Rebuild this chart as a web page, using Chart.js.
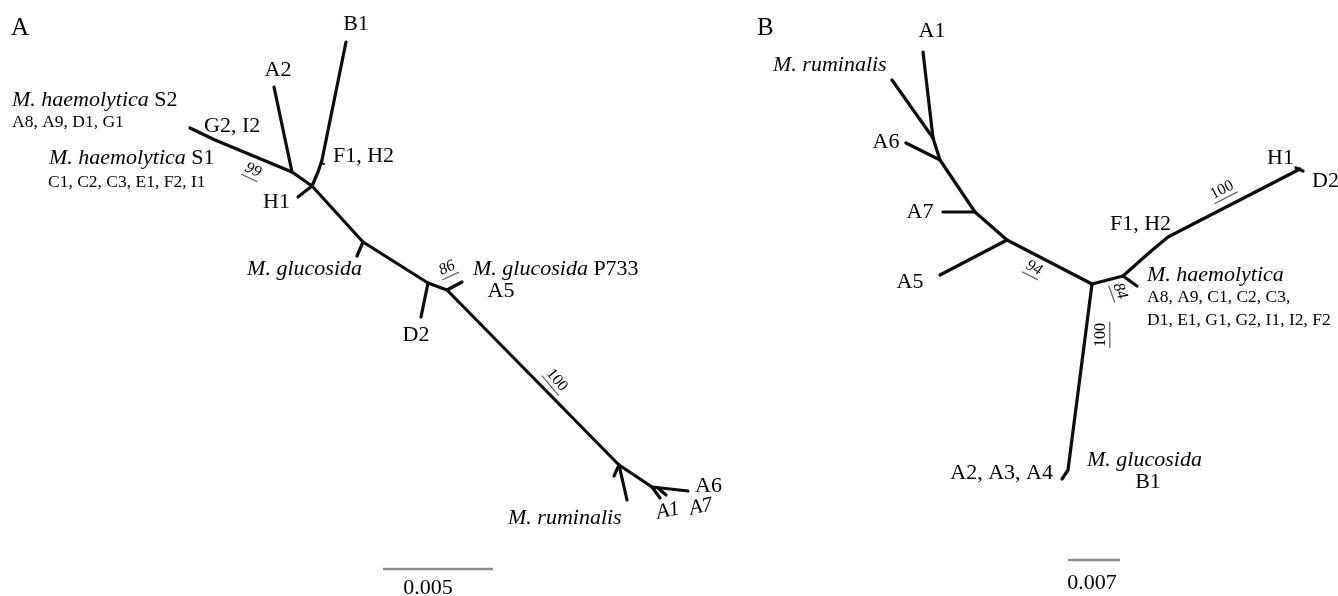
<!DOCTYPE html>
<html>
<head>
<meta charset="utf-8">
<script src="https://cdn.jsdelivr.net/npm/chart.js@4.4.1/dist/chart.umd.min.js"></script>
<style>
  html, body { margin: 0; padding: 0; background: #ffffff; }
  #wrap { width: 1338px; height: 596px; }
</style>
</head>
<body>
<div id="wrap"><canvas id="c" width="1338" height="596"></canvas></div>
<script>
// ---------------- DATA (node positions of the two unrooted trees) ----------------
// Tree A (polyline branches, each a list of [x, y] nodes in layout units)
const treeA_branches = [
  [[346, 42], [322, 160], [318, 172], [312, 186]],        // B1 (F1, H2 on it)
  [[274, 87], [292, 172]],                                 // A2
  [[190, 128], [215, 140], [292, 172], [312, 186]],        // M. haemolytica S2 / S1, G2, I2
  [[298, 197], [312, 186]],                                // H1
  [[312, 186], [363, 242], [428, 283], [447, 290], [619, 465]], // backbone
  [[363, 242], [357, 256]],                                // M. glucosida
  [[428, 283], [421, 317]],                                // D2
  [[447, 290], [462, 282]],                                // M. glucosida P733 / A5
  [[619, 465], [614, 476]],                                // ruminalis fork stub
  [[619, 465], [627, 500]],                                // M. ruminalis
  [[619, 465], [652, 487], [688, 491]],                    // A6
  [[652, 487], [660, 498]],                                // A1
  [[658, 488], [666, 495]]                                 // A7
];
const treeA_ticks = [
  [[321, 163], [324, 164]]                                 // F1, H2 mark
];
// Tree B
const treeB_branches = [
  [[923, 52], [933, 138]],                                 // A1
  [[892, 80], [933, 138]],                                 // M. ruminalis
  [[933, 138], [940, 160], [975, 212], [1007, 240], [1092, 284]], // backbone
  [[906, 143], [940, 160]],                                // A6
  [[943, 212], [975, 212]],                                // A7
  [[940, 275], [1007, 240]],                               // A5
  [[1092, 284], [1123, 276]],
  [[1123, 276], [1137, 286]],                              // M. haemolytica
  [[1123, 276], [1150, 252], [1168, 237], [1300, 169]],    // F1, H2 -> H1, D2
  [[1296, 168], [1303, 171]],
  [[1092, 284], [1068, 470], [1062, 479]]                  // M. glucosida / A2, A3, A4
];
// Scale bars: [start, end] in layout units, value represented
const scaleBarA = [[383, 569], [493, 569]];
const scaleBarB = [[1068, 560], [1120, 560]];
const scaleValues = ["0.005", "0.007"];
// Bootstrap support values
const supportA = ["99", "86", "100"];
const supportB = ["94", "100", "84", "100"];

// ---------------- LABEL LAYOUT ----------------
// parts: [text, italic?]
const labels = [
  // Panel A
  { p: [["A", 0]], x: 11, y: 28, s: 25, a: "left" },
  { p: [["B1", 0]], x: 356, y: 24, s: 22, a: "center" },
  { p: [["A2", 0]], x: 278, y: 70, s: 22, a: "center" },
  { p: [["G2, I2", 0]], x: 204, y: 126, s: 22, a: "left" },
  { p: [["F1, H2", 0]], x: 333, y: 156, s: 22, a: "left" },
  { p: [["H1", 0]], x: 263, y: 202, s: 22, a: "left" },
  { p: [["M. haemolytica", 1], [" S2", 0]], x: 12, y: 100, s: 22, a: "left" },
  { p: [["A8, A9, D1, G1", 0]], x: 12, y: 122, s: 17.5, a: "left" },
  { p: [["M. haemolytica", 1], [" S1", 0]], x: 49, y: 158, s: 22, a: "left" },
  { p: [["C1, C2, C3, E1, F2, I1", 0]], x: 48, y: 182, s: 17.5, a: "left" },
  { p: [["M. glucosida", 1]], x: 362, y: 269, s: 22, a: "right" },
  { p: [["M. glucosida", 1], [" P733", 0]], x: 473, y: 269, s: 22, a: "left" },
  { p: [["A5", 0]], x: 501, y: 291, s: 22, a: "center" },
  { p: [["D2", 0]], x: 416, y: 335, s: 22, a: "center" },
  { p: [["M. ruminalis", 1]], x: 508, y: 518, s: 22, a: "left" },
  { p: [["A6", 0]], x: 695, y: 486, s: 22, a: "left" },
  { p: [["A1", 1]], x: 668, y: 511, s: 21, a: "center", r: -12 },
  { p: [["A7", 1]], x: 701, y: 507, s: 21, a: "center", r: -12 },
  { p: [[supportA[0], 1]], x: 253, y: 170, s: 16, a: "center", r: 25, ul: 1 },
  { p: [[supportA[1], 1]], x: 447, y: 268, s: 16, a: "center", r: -25, ul: 1 },
  { p: [[supportA[2], 0]], x: 557, y: 380, s: 16, a: "center", r: 50, ul: 1 },
  { p: [[scaleValues[0], 0]], x: 428, y: 588, s: 22, a: "center" },
  // Panel B
  { p: [["B", 0]], x: 757, y: 28, s: 25, a: "left" },
  { p: [["A1", 0]], x: 932, y: 31, s: 22, a: "center" },
  { p: [["M. ruminalis", 1]], x: 773, y: 65, s: 22, a: "left" },
  { p: [["A6", 0]], x: 886, y: 142, s: 22, a: "center" },
  { p: [["A7", 0]], x: 920, y: 212, s: 22, a: "center" },
  { p: [["A5", 0]], x: 910, y: 282, s: 22, a: "center" },
  { p: [[supportB[0], 1]], x: 1034, y: 268, s: 16, a: "center", r: 27, ul: 1 },
  { p: [["F1, H2", 0]], x: 1110, y: 224, s: 22, a: "left" },
  { p: [[supportB[1], 0]], x: 1222, y: 190, s: 16, a: "center", r: -27, ul: 1 },
  { p: [["H1", 0]], x: 1267, y: 158, s: 22, a: "left" },
  { p: [["D2", 0]], x: 1312, y: 181, s: 22, a: "left" },
  { p: [["M. haemolytica", 1]], x: 1147, y: 275, s: 22, a: "left" },
  { p: [["A8, A9, C1, C2, C3,", 0]], x: 1147, y: 297, s: 17.5, a: "left" },
  { p: [["D1, E1, G1, G2, I1, I2, F2", 0]], x: 1147, y: 320, s: 17.5, a: "left" },
  { p: [[supportB[2], 1]], x: 1120, y: 291, s: 16, a: "center", r: 70, ul: 1 },
  { p: [[supportB[3], 0]], x: 1101, y: 335, s: 16, a: "center", r: -90, ul: 1 },
  { p: [["A2, A3, A4", 0]], x: 1053, y: 473, s: 22, a: "right" },
  { p: [["M. glucosida", 1]], x: 1087, y: 460, s: 22, a: "left" },
  { p: [["B1", 0]], x: 1148, y: 482, s: 22, a: "center" },
  { p: [[scaleValues[1], 0]], x: 1092, y: 583, s: 22, a: "center" }
];

// ---------------- BUILD DATASETS ----------------
const FONT = '"Liberation Serif", "DejaVu Serif", serif';
function branchDS(pts, color, width) {
  return {
    data: pts.map(([x, y]) => ({ x, y })),
    showLine: true,
    borderColor: color,
    backgroundColor: color,
    borderWidth: width,
    pointRadius: 0,
    pointHoverRadius: 0,
    fill: false,
    tension: 0,
    borderCapStyle: 'round',
    borderJoinStyle: 'round',
    clip: false
  };
}
const datasets = [];
treeA_branches.forEach(b => datasets.push(branchDS(b, '#0d0d0d', 3.2)));
treeA_ticks.forEach(b => datasets.push(branchDS(b, '#0d0d0d', 2)));
treeB_branches.forEach(b => datasets.push(branchDS(b, '#0d0d0d', 3.2)));
datasets.push(Object.assign(branchDS(scaleBarA, '#8c8c8c', 2.5), { borderCapStyle: 'butt' }));
datasets.push(Object.assign(branchDS(scaleBarB, '#8c8c8c', 2.5), { borderCapStyle: 'butt' }));

const labelPlugin = {
  id: 'treeLabels',
  afterDatasetsDraw(chart) {
    const ctx = chart.ctx;
    const xs = chart.scales.x, ys = chart.scales.y;
    labels.forEach(L => {
      const px = xs.getPixelForValue(L.x), py = ys.getPixelForValue(L.y);
      ctx.save();
      ctx.translate(px, py);
      if (L.r) ctx.rotate(L.r * Math.PI / 180);
      ctx.textBaseline = 'middle';
      ctx.textAlign = 'left';
      ctx.fillStyle = '#000000';
      let total = 0;
      const widths = L.p.map(([t, it]) => {
        ctx.font = (it ? 'italic ' : '') + L.s + 'px ' + FONT;
        const w = ctx.measureText(t).width; total += w; return w;
      });
      let x0 = L.a === 'center' ? -total / 2 : (L.a === 'right' ? -total : 0);
      L.p.forEach(([t, it], i) => {
        ctx.font = (it ? 'italic ' : '') + L.s + 'px ' + FONT;
        ctx.fillText(t, x0, 0);
        x0 += widths[i];
      });
      if (L.ul) {
        const start = L.a === 'center' ? -total / 2 : 0;
        ctx.strokeStyle = '#666666';
        ctx.lineWidth = 1.3;
        ctx.beginPath();
        ctx.moveTo(start - 1, L.s * 0.55);
        ctx.lineTo(start + total + 1, L.s * 0.55);
        ctx.stroke();
      }
      ctx.restore();
    });
  }
};

new Chart(document.getElementById('c').getContext('2d'), {
  type: 'scatter',
  data: { datasets },
  options: {
    responsive: false,
    animation: false,
    events: [],
    layout: { padding: 0 },
    plugins: { legend: { display: false }, tooltip: { enabled: false } },
    scales: {
      x: { type: 'linear', min: 0, max: 1338, display: false },
      y: { type: 'linear', min: 0, max: 596, reverse: true, display: false }
    }
  },
  plugins: [labelPlugin]
});
</script>
</body>
</html>
